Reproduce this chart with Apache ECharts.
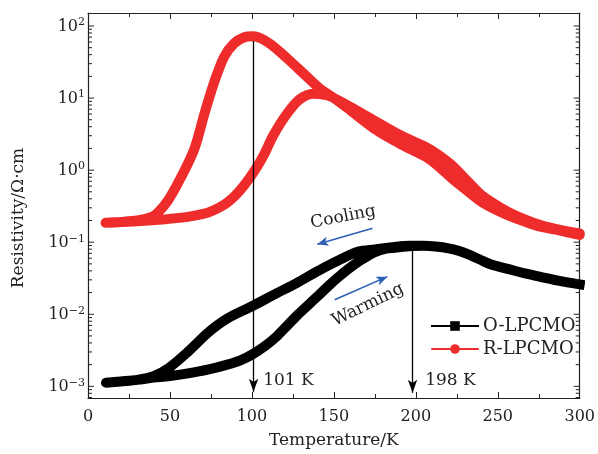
<!DOCTYPE html>
<html>
<head>
<meta charset="utf-8">
<script src="https://cdn.jsdelivr.net/npm/echarts@6/dist/echarts.min.js"></script>
<style>html,body{margin:0;padding:0;background:#fff;}#c{width:598px;height:454px;}</style>
</head>
<body>
<div id="c"></div>
<script>
// ---- data (Temperature in K, resistivity in Ω·cm) ----
const oCoolT   = [300, 286, 276, 266, 256, 246, 239, 232, 226, 220, 212, 205, 196, 186, 175, 165, 153, 141, 127, 115, 100, 85, 73, 61, 49, 40, 30, 20, 11];
const oCoolRho = [0.0260, 0.0295, 0.0331, 0.0372, 0.0427, 0.0490, 0.0575, 0.0676, 0.0759, 0.0822, 0.0871, 0.0891, 0.0891, 0.0851, 0.0794, 0.0741, 0.0562, 0.0407, 0.0269, 0.0195, 0.0129, 0.00871, 0.00550, 0.00302, 0.00178, 0.00138, 0.00123, 0.00117, 0.00112];
const oWarmT   = [11, 20, 30, 40, 49, 61, 73, 85, 93, 100, 108, 115, 121, 127, 134, 141, 147, 153, 159, 165, 170, 175, 180, 186, 196, 205, 212, 220, 226, 232, 239, 246, 256, 266, 276, 286, 300];
const oWarmRho = [0.00112, 0.00117, 0.00123, 0.00132, 0.00138, 0.00151, 0.00170, 0.00200, 0.00229, 0.00275, 0.00363, 0.00490, 0.00676, 0.00933, 0.0132, 0.0186, 0.0251, 0.0331, 0.0427, 0.0537, 0.0631, 0.0724, 0.0794, 0.0832, 0.0881, 0.0891, 0.0871, 0.0822, 0.0759, 0.0676, 0.0575, 0.0490, 0.0427, 0.0372, 0.0331, 0.0295, 0.0260];

const rCoolT   = [300, 288, 276, 266, 256, 248, 240, 231, 222, 214, 206, 190, 176, 160, 148.5, 141.5, 131.5, 121.5, 113.5, 107, 101, 95, 89, 83, 77, 71, 65, 57, 49, 43, 39, 30, 20, 10.7];
const rCoolRho = [0.126, 0.145, 0.164, 0.195, 0.238, 0.288, 0.364, 0.525, 0.767, 1.12, 1.53, 2.34, 3.58, 6.78, 10.6, 13.5, 21.9, 35.5, 51.3, 64.6, 71.8, 69.2, 56.9, 37.2, 16.6, 6.03, 2.00, 0.813, 0.385, 0.263, 0.224, 0.200, 0.191, 0.186];
const rWarmT   = [10.7, 20, 30, 43, 57, 65, 73, 80, 85, 90, 95, 101, 107, 113, 121, 129, 137.5, 145.5, 148.5, 160, 176, 190, 206, 214, 222, 231, 240, 248, 256, 266, 276, 288, 300];
const rWarmRho = [0.186, 0.191, 0.195, 0.204, 0.219, 0.234, 0.257, 0.302, 0.355, 0.447, 0.603, 0.933, 1.58, 3.02, 5.89, 9.55, 11.5, 11.0, 10.4, 7.53, 4.67, 3.09, 2.10, 1.62, 1.17, 0.724, 0.451, 0.339, 0.265, 0.209, 0.173, 0.148, 0.132];

const xTicks = [0, 50, 100, 150, 200, 250, 300];
const yDecades = [-3, -2, -1, 0, 1, 2];
const seriesNames = ['O-LPCMO', 'R-LPCMO'];
const peakTemps = [101, 198];
const peakLabels = ['101 K', '198 K'];
const noteTexts = ['Cooling', 'Warming'];

// ---- build ----
const FONT = 'DejaVu Serif';
const INK = '#222';
const xMin = xTicks[0], xMax = xTicks[xTicks.length - 1];
const yMin = -3.162, yMax = 2.18; // log10 extent of the axis
const lg = v => Math.log10(v);
function pairs(T, R) { return T.map((t, i) => [t, lg(R[i])]); }
const oData = pairs(oCoolT, oCoolRho).concat(pairs(oWarmT, oWarmRho).slice(1));
const rData = pairs(rCoolT, rCoolRho).concat(pairs(rWarmT, rWarmRho).slice(1));

// y tick marks (major decades + minor 2..9)
const yTickData = [];
for (let n = yDecades[0] - 1; n <= yDecades[yDecades.length - 1] + 1; n++) {
  for (let k = 1; k <= 9; k++) {
    const v = n + Math.log10(k);
    if (v >= yMin - 1e-9 && v <= yMax + 1e-9) yTickData.push([xMin, v, k === 1 ? 6 : 4]);
  }
}

const chart = echarts.init(document.getElementById('c'), null, {renderer: 'canvas'});

const arrowBlack = {color: '#000', width: 1.3, type: 'solid'};
const arrowBlue = {color: '#2d5fb4', width: 1.6, type: 'solid'};
const axisLineStyle = {show: true, onZero: false, lineStyle: {color: INK, width: 1.2}};

const option = {
  animation: false,
  backgroundColor: '#fff',
  grid: {left: 88, right: 12, top: 13, bottom: 56, containLabel: false},
  legend: {
    data: seriesNames, orient: 'vertical', left: 426, top: 312,
    itemWidth: 46, itemHeight: 12, itemGap: 5,
    lineStyle: {width: 2},
    textStyle: {fontFamily: FONT, fontSize: 18, color: INK, lineHeight: 18}
  },
  xAxis: [{
    type: 'value', min: xMin, max: xMax, interval: 50, position: 'bottom',
    axisLine: axisLineStyle,
    axisTick: {show: true, inside: true, length: 6, lineStyle: {color: INK, width: 1}},
    minorTick: {show: true, splitNumber: 2, length: 4, lineStyle: {color: INK, width: 1}},
    splitLine: {show: false},
    axisLabel: {fontFamily: FONT, fontSize: 16, color: INK, margin: 11},
    name: 'Temperature/K', nameLocation: 'middle', nameGap: 34,
    nameTextStyle: {fontFamily: FONT, fontSize: 17, color: INK}
  }, {
    type: 'value', min: xMin, max: xMax, interval: 50, position: 'top',
    axisLine: axisLineStyle,
    axisTick: {show: true, inside: true, length: 6, lineStyle: {color: INK, width: 1}},
    minorTick: {show: true, splitNumber: 2, length: 4, lineStyle: {color: INK, width: 1}},
    splitLine: {show: false}, axisLabel: {show: false}
  }],
  yAxis: [{
    type: 'value', min: yMin, max: yMax, minInterval: 1, maxInterval: 1, position: 'left',
    axisLine: axisLineStyle,
    axisTick: {show: false}, splitLine: {show: false},
    axisLabel: {
      showMinLabel: false, showMaxLabel: false, margin: 3, color: INK,
      formatter: function (v) {
        const r = Math.round(v);
        if (Math.abs(v - r) > 1e-6) return '';
        const e = r < 0 ? '\u2212' + (-r) : String(r);
        return '{b|10}{s|' + e + '}';
      },
      rich: {
        b: {fontFamily: FONT, fontSize: 16, color: INK, verticalAlign: 'bottom'},
        s: {fontFamily: FONT, fontSize: 11, color: INK, verticalAlign: 'bottom', padding: [0, 0, 7, 0]}
      }
    }
  }, {
    type: 'value', min: yMin, max: yMax, minInterval: 1, maxInterval: 1, position: 'right',
    axisLine: axisLineStyle,
    axisTick: {show: false}, splitLine: {show: false}, axisLabel: {show: false}
  }],
  series: [{
    name: seriesNames[0], type: 'line', data: oData, smooth: 0.3,
    symbol: 'rect', showSymbol: false, color: '#000',
    lineStyle: {color: '#000', width: 10, cap: 'square', join: 'round'},
    z: 3,
    markLine: {
      silent: true, animation: false, symbol: ['none', 'arrow'], symbolSize: [7, 13],
      label: {show: false}, z: 10,
      data: [
        [{coord: [peakTemps[0], 1.79], lineStyle: arrowBlack}, {coord: [peakTemps[0], -3.075]}],
        [{coord: [peakTemps[1], -1.06], lineStyle: arrowBlack}, {coord: [peakTemps[1], -3.09]}],
        [{coord: [173.6, -0.807], lineStyle: arrowBlue, symbolSize: [7, 11]}, {coord: [139.9, -1.029], symbolSize: [7, 11]}],
        [{coord: [150.5, -1.80], lineStyle: arrowBlue, symbolSize: [7, 11]}, {coord: [182.6, -1.478], symbolSize: [7, 11]}]
      ]
    }
  }, {
    name: seriesNames[1], type: 'line', data: rData, smooth: 0.3,
    symbol: 'circle', showSymbol: false, color: '#ee2c2c',
    lineStyle: {color: '#ee2c2c', width: 10, cap: 'round', join: 'round'},
    z: 2
  }, {
    name: 'yticks', type: 'custom', data: yTickData, silent: true, z: 5,
    renderItem: function (params, api) {
      const v = api.value(1), len = api.value(2);
      const L = api.coord([xMin, v]);
      const R = api.coord([xMax, v]);
      return {type: 'group', children: [
        {type: 'line', shape: {x1: L[0], y1: L[1], x2: L[0] + len, y2: L[1]}, style: {stroke: INK, lineWidth: 1}},
        {type: 'line', shape: {x1: R[0], y1: R[1], x2: R[0] - len, y2: R[1]}, style: {stroke: INK, lineWidth: 1}}
      ]};
    }
  }]
};
chart.setOption(option);

function px(t, v) { return chart.convertToPixel({gridIndex: 0}, [t, v]); }
const pC = px(155.7, -0.651), pW = px(170.8, -1.87);
const p101 = px(106.9, -2.92), p198 = px(205.7, -2.92);
const txt = (text, p, rot, align) => ({
  type: 'text', x: p[0], y: p[1], rotation: rot, z: 20,
  style: {text: text, fontFamily: FONT, fontSize: 17, fill: INK, textAlign: align || 'center', textVerticalAlign: 'middle'}
});
chart.setOption({graphic: [
  txt(noteTexts[0], pC, 11 * Math.PI / 180),
  txt(noteTexts[1], pW, 26 * Math.PI / 180),
  txt(peakLabels[0], p101, 0, 'left'),
  txt(peakLabels[1], p198, 0, 'left'),
  txt('Resistivity/\u03A9\u00B7cm', [18.5, 218], Math.PI / 2)
]});
</script>
</body>
</html>
